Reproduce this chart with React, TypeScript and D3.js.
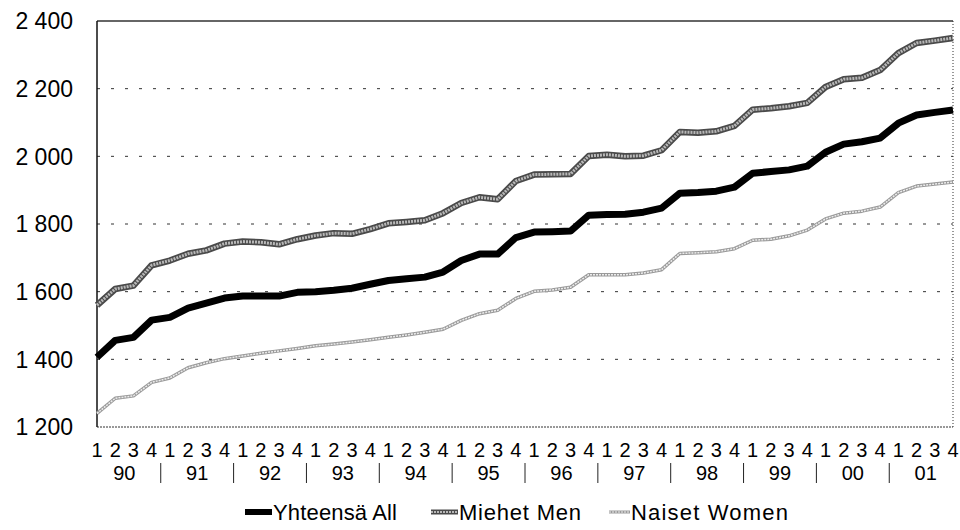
import React, { useEffect, useRef } from "react";
import * as d3 from "d3";

// quarterly values 1990Q1 .. 2001Q4
const years = ["90", "91", "92", "93", "94", "95", "96", "97", "98", "99", "00", "01"];
const quarters = ["1", "2", "3", "4"];
const yTicks = [1200, 1400, 1600, 1800, 2000, 2200, 2400];

const allValues = [
  1406, 1456, 1465, 1516, 1524, 1551, 1566, 1581, 1587, 1587, 1587, 1598,
  1600, 1604, 1610, 1622, 1633, 1638, 1643, 1658, 1692, 1711, 1711, 1760,
  1776, 1777, 1779, 1826, 1828, 1829, 1835, 1847, 1891, 1893, 1897, 1909,
  1950, 1955, 1960, 1971, 2012, 2036, 2043, 2054, 2098, 2122, 2130, 2137,
];
const menValues = [
  1560, 1608, 1618, 1678, 1692, 1712, 1722, 1742, 1748, 1746, 1740, 1755,
  1766, 1773, 1771, 1785, 1802, 1806, 1811, 1832, 1862, 1879, 1873, 1927,
  1946, 1947, 1948, 2001, 2005, 2000, 2002, 2018, 2072, 2070, 2074, 2090,
  2138, 2142, 2148, 2158, 2205, 2228, 2232, 2255, 2305, 2335, 2342, 2350,
];
const womenValues = [
  1240, 1285, 1292, 1332, 1345, 1375, 1390, 1402, 1410, 1418, 1425, 1432,
  1440, 1445, 1451, 1458, 1465, 1472, 1480, 1489, 1515, 1535, 1545, 1580,
  1601, 1605, 1613, 1650, 1650, 1650, 1655, 1665, 1713, 1715, 1718, 1727,
  1752, 1755, 1765, 1782, 1815, 1832, 1838, 1850, 1893, 1912, 1918, 1924,
];

const seriesNames = ["Yhteensä All", "Miehet Men", "Naiset Women"];

const App = () => {
  const svgRef = useRef<SVGSVGElement | null>(null);
  const w = 960;
  const h = 530;
  const m = { top: 21, right: 7, bottom: 103, left: 97 };

  useEffect(() => {
    d3.select(svgRef.current).selectAll("*").remove();
    const svg = d3.select(svgRef.current).attr("viewBox", `0 0 ${w} ${h}`);
    const font = "Arial, 'Liberation Sans', sans-serif";

    const n = allValues.length;
    const x = d3.scaleLinear().domain([0, n - 1]).range([m.left, w - m.right]);
    const y = d3.scaleLinear().domain([1200, 2400]).range([h - m.bottom, m.top]);

    // gridlines
    svg.append("g")
      .selectAll("line")
      .data(yTicks.filter((t) => t > 1200 && t < 2400))
      .enter()
      .append("line")
      .attr("x1", m.left)
      .attr("x2", w - m.right)
      .attr("y1", (d) => y(d))
      .attr("y2", (d) => y(d))
      .attr("stroke", "#333")
      .attr("stroke-width", 1)
      .attr("stroke-dasharray", "3,11");

    // frame
    svg.append("line")
      .attr("x1", m.left).attr("x2", w - m.right)
      .attr("y1", y(2400)).attr("y2", y(2400))
      .attr("stroke", "#333").attr("stroke-width", 1.5);
    svg.append("line")
      .attr("x1", w - m.right).attr("x2", w - m.right)
      .attr("y1", y(2400)).attr("y2", y(1200))
      .attr("stroke", "#333").attr("stroke-width", 1).attr("stroke-dasharray", "1,2");
    svg.append("line")
      .attr("x1", m.left).attr("x2", w - m.right)
      .attr("y1", y(1200)).attr("y2", y(1200))
      .attr("stroke", "#333").attr("stroke-width", 1).attr("stroke-dasharray", "2,1");
    svg.append("line")
      .attr("x1", m.left).attr("x2", m.left)
      .attr("y1", y(2400)).attr("y2", y(1200))
      .attr("stroke", "#111").attr("stroke-width", 1.5);

    // y tick labels
    svg.append("g")
      .selectAll("text")
      .data(yTicks)
      .enter()
      .append("text")
      .attr("x", 73)
      .attr("y", (d) => y(d))
      .attr("dy", "0.36em")
      .attr("text-anchor", "end")
      .style("font-family", font)
      .style("font-size", "23px")
      .attr("fill", "#000")
      .text((d) => d3.format(",")(d).replace(",", " "));

    // quarter labels
    const qLabels = years.flatMap(() => quarters);
    svg.append("g")
      .selectAll("text")
      .data(qLabels)
      .enter()
      .append("text")
      .attr("x", (d, i) => x(i))
      .attr("y", 457)
      .attr("text-anchor", "middle")
      .style("font-family", font)
      .style("font-size", "20px")
      .text((d) => d);

    // year labels + separators
    svg.append("g")
      .selectAll("text")
      .data(years)
      .enter()
      .append("text")
      .attr("x", (d, i) => x(i * 4 + 1.5))
      .attr("y", 480)
      .attr("text-anchor", "middle")
      .style("font-family", font)
      .style("font-size", "20px")
      .text((d) => d);
    svg.append("g")
      .selectAll("line")
      .data(years.slice(1))
      .enter()
      .append("line")
      .attr("x1", (d, i) => x((i + 1) * 4 - 0.5))
      .attr("x2", (d, i) => x((i + 1) * 4 - 0.5))
      .attr("y1", 463)
      .attr("y2", 483)
      .attr("stroke", "#222")
      .attr("stroke-width", 1);

    const line = d3.line<number>().x((d, i) => x(i)).y((d) => y(d));

    // women
    svg.append("path").datum(womenValues).attr("d", line)
      .attr("fill", "none").attr("stroke", "#9a9a9a").attr("stroke-width", 3.5)
      .attr("stroke-linejoin", "round");
    svg.append("path").datum(womenValues).attr("d", line)
      .attr("fill", "none").attr("stroke", "#ececec").attr("stroke-width", 1.5)
      .attr("stroke-dasharray", "2,1");
    // men
    svg.append("path").datum(menValues).attr("d", line)
      .attr("fill", "none").attr("stroke", "#4a4a4a").attr("stroke-width", 6.5)
      .attr("stroke-linejoin", "round");
    svg.append("path").datum(menValues).attr("d", line)
      .attr("fill", "none").attr("stroke", "#b8b8b8").attr("stroke-width", 3)
      .attr("stroke-dasharray", "2,1");
    // total
    svg.append("path").datum(allValues).attr("d", line)
      .attr("fill", "none").attr("stroke", "#000").attr("stroke-width", 7)
      .attr("stroke-linejoin", "round");

    // legend
    const swatchX = [245, 431, 609];
    const swatchW = [27, 27, 21];
    const textW = [124, 122, 157];
    const lg = svg.append("g");
    seriesNames.forEach((name, i) => {
      const x0 = swatchX[i];
      const x1 = x0 + swatchW[i];
      const yy = 512;
      if (i === 0) {
        lg.append("line").attr("x1", x0).attr("x2", x1).attr("y1", yy).attr("y2", yy)
          .attr("stroke", "#000").attr("stroke-width", 6);
      } else if (i === 1) {
        lg.append("line").attr("x1", x0).attr("x2", x1).attr("y1", yy).attr("y2", yy)
          .attr("stroke", "#4a4a4a").attr("stroke-width", 5);
        lg.append("line").attr("x1", x0).attr("x2", x1).attr("y1", yy).attr("y2", yy)
          .attr("stroke", "#b8b8b8").attr("stroke-width", 2).attr("stroke-dasharray", "2,1");
      } else {
        lg.append("line").attr("x1", x0).attr("x2", x1).attr("y1", yy).attr("y2", yy)
          .attr("stroke", "#9a9a9a").attr("stroke-width", 3);
        lg.append("line").attr("x1", x0).attr("x2", x1).attr("y1", yy).attr("y2", yy)
          .attr("stroke", "#ececec").attr("stroke-width", 1).attr("stroke-dasharray", "2,1");
      }
      lg.append("text")
        .attr("x", x1 + 1)
        .attr("y", 520)
        .attr("textLength", textW[i])
        .attr("lengthAdjust", "spacing")
        .style("font-family", font)
        .style("font-size", "22px")
        .text(name);
    });
  }, []);

  return (
    <svg
      ref={svgRef}
      width={w}
      height={h}
      style={{ position: "absolute", left: 0, top: 0, background: "#fff" }}
    ></svg>
  );
};

export default App;
